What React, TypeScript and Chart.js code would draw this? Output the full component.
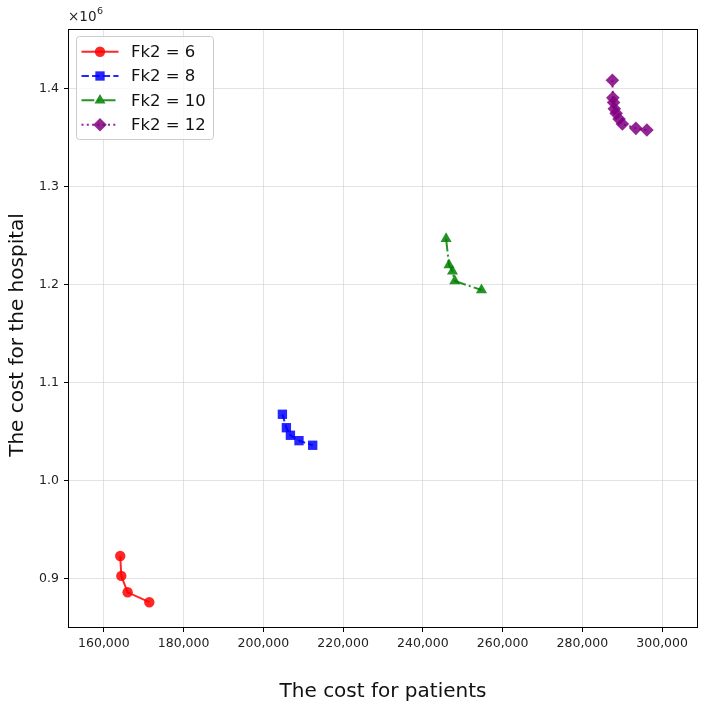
import React, { useEffect, useRef } from 'react';
import { Chart, registerables } from 'chart.js';
import { drawPoint } from 'chart.js/helpers';
Chart.register(...registerables);

const fk6X = [164100, 164370, 165950, 171390];
const fk6Y = [923400, 903100, 886400, 876300];
const fk8X = [204770, 205770, 206780, 208930, 212370];
const fk8Y = [1067900, 1054200, 1046500, 1041000, 1036300];
const fk10X = [245820, 246550, 247430, 248000, 254700];
const fk10Y = [1246900, 1220100, 1213600, 1203800, 1194600];
const fk12X = [287530, 287650, 287830, 288020, 288470, 289200, 290030, 293420, 296180];
const fk12Y = [1408400, 1390500, 1385700, 1379300, 1374700, 1368900, 1363800, 1359400, 1357700];
const seriesLabels = ['Fk2 = 6', 'Fk2 = 8', 'Fk2 = 10', 'Fk2 = 12'];
const xTicks = [160000, 180000, 200000, 220000, 240000, 260000, 280000, 300000];
const yTicks = [900000, 1000000, 1100000, 1200000, 1300000, 1400000];
const xTitle = 'The cost for patients';
const yTitle = 'The cost for the hospital';

const FONT = "'DejaVu Sans', sans-serif";

const styles = [
  { color: 'rgba(255,0,0,0.85)', dash: [] as number[], pointStyle: 'circle', radius: 5.2 },
  { color: 'rgba(0,0,255,0.85)', dash: [7.4, 3.2], pointStyle: 'rect', radius: 6.6 },
  { color: 'rgba(0,128,0,0.85)', dash: [12.8, 3.2, 2, 3.2], pointStyle: 'triangle', radius: 6.4 },
  { color: 'rgba(128,0,128,0.85)', dash: [2, 3.3], pointStyle: 'rectRot', radius: 6.8 },
];

const toPts = (xs: number[], ys: number[]) => xs.map((x, i) => ({ x, y: ys[i] }));

const framePlugin = {
  id: 'frame',
  beforeDatasetsDraw(chart: any) {
    const { ctx, chartArea: a } = chart;
    ctx.save();
    ctx.strokeStyle = '#000';
    ctx.lineWidth = 1;
    ctx.strokeRect(a.left + 0.5, a.top + 0.5, a.right - a.left - 1, a.bottom - a.top - 1);
    ctx.restore();
  },
  afterDraw(chart: any) {
    const { ctx, chartArea: a } = chart;
    ctx.save();
    // y axis title
    ctx.save();
    ctx.translate(18, 335);
    ctx.rotate(-Math.PI / 2);
    ctx.fillStyle = '#111';
    ctx.font = `20px ${FONT}`;
    ctx.textAlign = 'center';
    ctx.textBaseline = 'middle';
    ctx.fillText(yTitle, 0, 0);
    ctx.restore();
    // offset text
    ctx.fillStyle = '#222';
    ctx.textBaseline = 'alphabetic';
    ctx.textAlign = 'left';
    ctx.font = `13.5px ${FONT}`;
    ctx.fillText('×10', a.left, 21);
    const w = ctx.measureText('×10').width;
    ctx.font = `9.5px ${FONT}`;
    ctx.fillText('6', a.left + w + 0.5, 14);
    // legend
    const bx = 76.5, by = 36.5, bw = 137, bh = 103;
    ctx.fillStyle = 'rgba(255,255,255,0.8)';
    ctx.strokeStyle = '#cccccc';
    ctx.lineWidth = 1;
    ctx.beginPath();
    (ctx as any).roundRect(bx, by, bw, bh, 3);
    ctx.fill();
    ctx.stroke();
    const rows = [51.7, 76, 100.3, 124.8];
    chart.data.datasets.forEach((ds: any, i: number) => {
      const s = styles[i];
      const y = rows[i];
      ctx.strokeStyle = s.color;
      ctx.lineWidth = 2;
      ctx.setLineDash(s.dash);
      ctx.beginPath();
      ctx.moveTo(81.5, y);
      ctx.lineTo(118.5, y);
      ctx.stroke();
      ctx.setLineDash([]);
      ctx.fillStyle = s.color;
      drawPoint(ctx, { pointStyle: s.pointStyle, radius: s.radius, rotation: 0, borderWidth: 0 } as any, 100, y);
      ctx.fillStyle = '#111';
      ctx.font = `16.5px ${FONT}`;
      ctx.textBaseline = 'middle';
      ctx.textAlign = 'left';
      ctx.fillText(ds.label, 131, y + 1);
    });
    ctx.restore();
  },
};

export default function App() {
  const ref = useRef<HTMLCanvasElement>(null);
  useEffect(() => {
    document.body.style.margin = '0';
    const xsets = [fk6X, fk8X, fk10X, fk12X];
    const ysets = [fk6Y, fk8Y, fk10Y, fk12Y];
    const chart = new Chart(ref.current!, {
      type: 'scatter',
      data: {
        datasets: seriesLabels.map((label, i) => ({
          label,
          data: toPts(xsets[i], ysets[i]),
          showLine: true,
          borderColor: styles[i].color,
          backgroundColor: styles[i].color,
          borderWidth: 2,
          borderDash: styles[i].dash,
          pointStyle: styles[i].pointStyle as any,
          pointRadius: styles[i].radius,
          pointBackgroundColor: styles[i].color,
          pointBorderColor: styles[i].color,
          pointBorderWidth: 0,
          tension: 0,
        })),
      },
      options: {
        animation: false,
        responsive: false,
        maintainAspectRatio: false,
        layout: { padding: { top: 29, right: 8, left: 0, bottom: 0 } },
        plugins: { legend: { display: false }, tooltip: { enabled: false } },
        scales: {
          x: {
            type: 'linear',
            min: 151000,
            max: 309000,
            afterBuildTicks: (s: any) => { s.ticks = xTicks.map((v) => ({ value: v })); },
            afterFit: (s: any) => { s.height = 82; },
            grid: { color: 'rgba(200,200,200,0.5)', tickColor: '#000', tickLength: 4, lineWidth: 1 },
            border: { display: false },
            ticks: {
              color: '#222',
              font: { family: FONT, size: 12.5 },
              padding: 4,
              maxRotation: 0,
              callback: (v: any) => Number(v).toLocaleString('en-US'),
            },
            title: {
              display: true,
              text: xTitle,
              color: '#111',
              font: { family: FONT, size: 20 },
              padding: { top: 0, bottom: 6 },
            },
          },
          y: {
            type: 'linear',
            min: 850000,
            max: 1460700,
            afterBuildTicks: (s: any) => { s.ticks = yTicks.map((v) => ({ value: v })); },
            afterFit: (s: any) => { s.width = 68; },
            grid: { color: 'rgba(200,200,200,0.5)', tickColor: '#000', tickLength: 4, lineWidth: 1 },
            border: { display: false },
            ticks: {
              color: '#222',
              font: { family: FONT, size: 12.5 },
              padding: 5,
              callback: (v: any) => (Number(v) / 1e6).toFixed(1),
            },
            title: { display: false },
          },
        },
      },
      plugins: [framePlugin],
    });
    return () => chart.destroy();
  }, []);
  return (
    <div style={{ width: 706, height: 710 }}>
      <canvas ref={ref} width={706} height={710} style={{ display: 'block', width: 706, height: 710 }} />
    </div>
  );
}
